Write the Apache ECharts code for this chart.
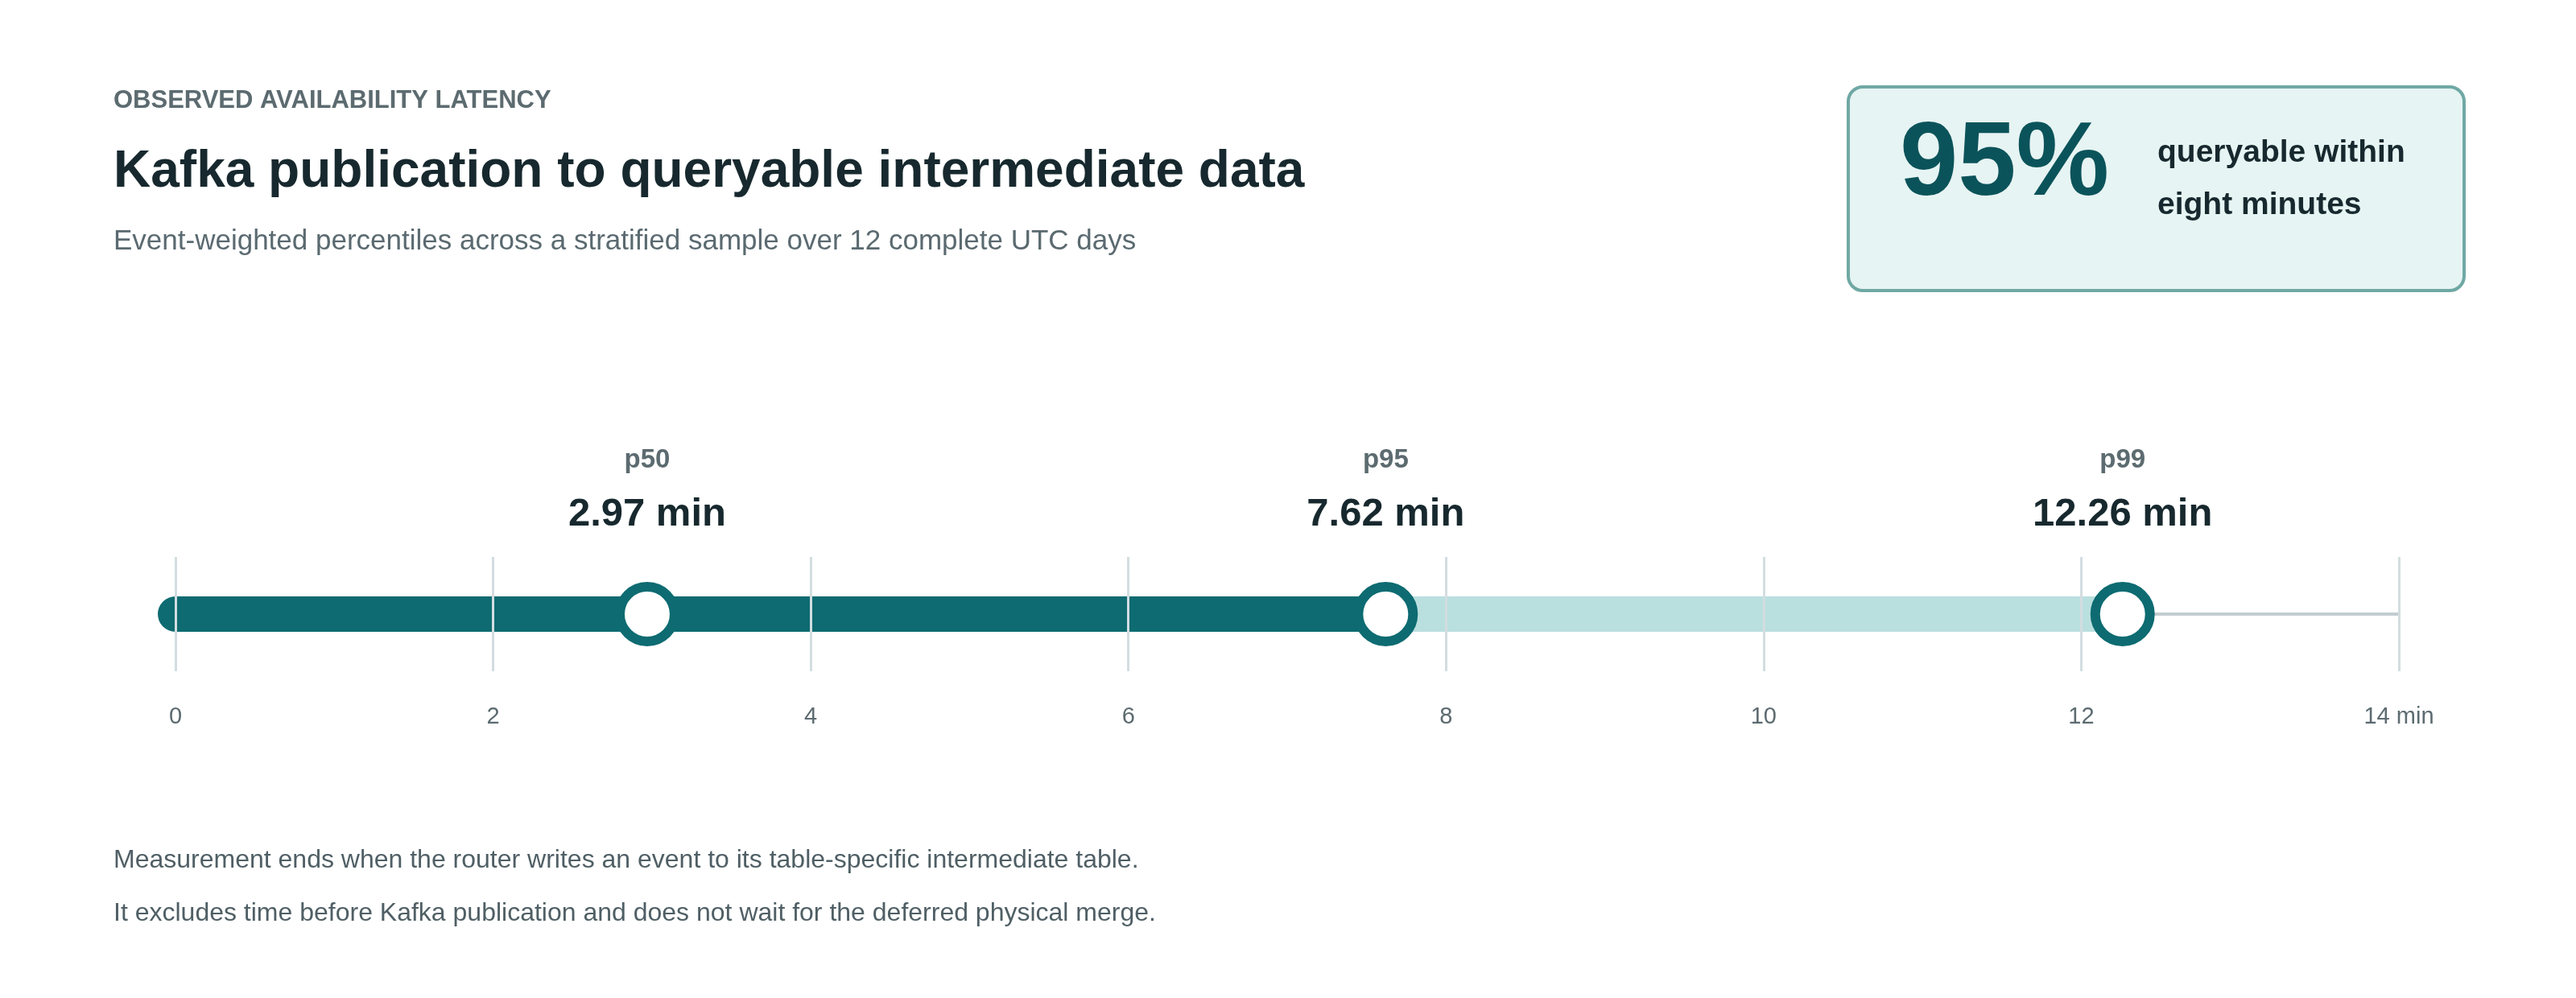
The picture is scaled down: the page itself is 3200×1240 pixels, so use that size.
<!DOCTYPE html>
<html><head><meta charset="utf-8">
<script src="https://cdn.jsdelivr.net/npm/echarts@6/dist/echarts.min.js"></script>
<style>html,body{margin:0;padding:0;background:#fff}#c{width:3200px;height:1240px}</style>
</head><body><div id="c"></div>
<script>
const percentileNames = ['p50', 'p95', 'p99'];
const percentileValues = [2.97, 7.62, 12.26];
const axisMax = 14;
const tickLabels = ['0', '2', '4', '6', '8', '10', '12', '14 min'];

const F = 'Liberation Sans, Arial, sans-serif';
const chart = echarts.init(document.getElementById('c'));
chart.setOption({
  animation: false,
  grid: { left: 218, right: 220, top: 692, height: 142 },
  xAxis: {
    type: 'value', min: 0, max: axisMax, interval: 2, z: 5,
    axisLine: { show: false }, axisTick: { show: false },
    splitLine: { show: true, lineStyle: { color: '#d3dde0', width: 3 } },
    axisLabel: { margin: 42, fontSize: 29, color: '#5c6b70', fontFamily: F,
      formatter: (v) => tickLabels[Math.round(v / 2)] }
  },
  yAxis: { type: 'value', min: -1, max: 1, show: false },
  series: [
    { type: 'line', z: 2, showSymbol: false, silent: true,
      data: [[percentileValues[2], 0], [axisMax, 0]],
      lineStyle: { color: '#c2cdd1', width: 4 } },
    { type: 'line', z: 3, showSymbol: false, silent: true,
      data: [[percentileValues[1], 0], [percentileValues[2], 0]],
      lineStyle: { color: '#badfdf', width: 44, cap: 'butt' } },
    { type: 'line', z: 4, showSymbol: false, silent: true,
      data: [[0, 0], [percentileValues[1], 0]],
      lineStyle: { color: '#0d6b71', width: 44, cap: 'round' } },
    { type: 'scatter', z: 10, symbol: 'circle', symbolSize: 68,
      data: percentileValues.map((v, i) => ({ value: [v, 0], name: percentileNames[i] })),
      itemStyle: { color: '#ffffff', borderColor: '#0d6b71', borderWidth: 12, opacity: 1 },
      label: { show: true, position: 'top', distance: 48,
        formatter: (p) => '{a|' + p.name + '}\n{b|' + p.value[0].toFixed(2) + ' min}',
        rich: {
          a: { fontSize: 33, fontWeight: 'bold', color: '#5c6b70', fontFamily: F, lineHeight: 62, align: 'center' },
          b: { fontSize: 49, fontWeight: 'bold', color: '#17292e', fontFamily: F, lineHeight: 72, align: 'center' }
        } } }
  ],
  graphic: [
    { type: 'text', left: 141, top: 110, style: { text: 'OBSERVED AVAILABILITY LATENCY', font: 'bold 31px ' + F, fill: '#5c6b70', letterSpacing: 2.5 } },
    { type: 'text', left: 141, top: 182, style: { text: 'Kafka publication to queryable intermediate data', font: 'bold 64px ' + F, fill: '#17292e' } },
    { type: 'text', left: 141, top: 283, style: { text: 'Event-weighted percentiles across a stratified sample over 12 complete UTC days', font: '35px ' + F, fill: '#5a6a70' } },
    { type: 'rect', shape: { x: 2296, y: 108, width: 765, height: 253, r: 18 }, style: { fill: '#e6f4f3', stroke: '#6fa8a4', lineWidth: 4 } },
    { type: 'text', x: 2490, y: 206, style: { text: '95%', font: 'bold 130px ' + F, fill: '#0b535a', align: 'center', verticalAlign: 'middle' } },
    { type: 'text', x: 2680, y: 190, style: { text: 'queryable within', font: 'bold 39px ' + F, fill: '#17292e', verticalAlign: 'middle' } },
    { type: 'text', x: 2680, y: 255, style: { text: 'eight minutes', font: 'bold 39px ' + F, fill: '#17292e', verticalAlign: 'middle' } },
    { type: 'text', left: 141, top: 1053, style: { text: 'Measurement ends when the router writes an event to its table-specific intermediate table.', font: '32px ' + F, fill: '#4f5f65' } },
    { type: 'text', left: 141, top: 1119, style: { text: 'It excludes time before Kafka publication and does not wait for the deferred physical merge.', font: '32px ' + F, fill: '#4f5f65' } }
  ]
});
</script></body></html>
